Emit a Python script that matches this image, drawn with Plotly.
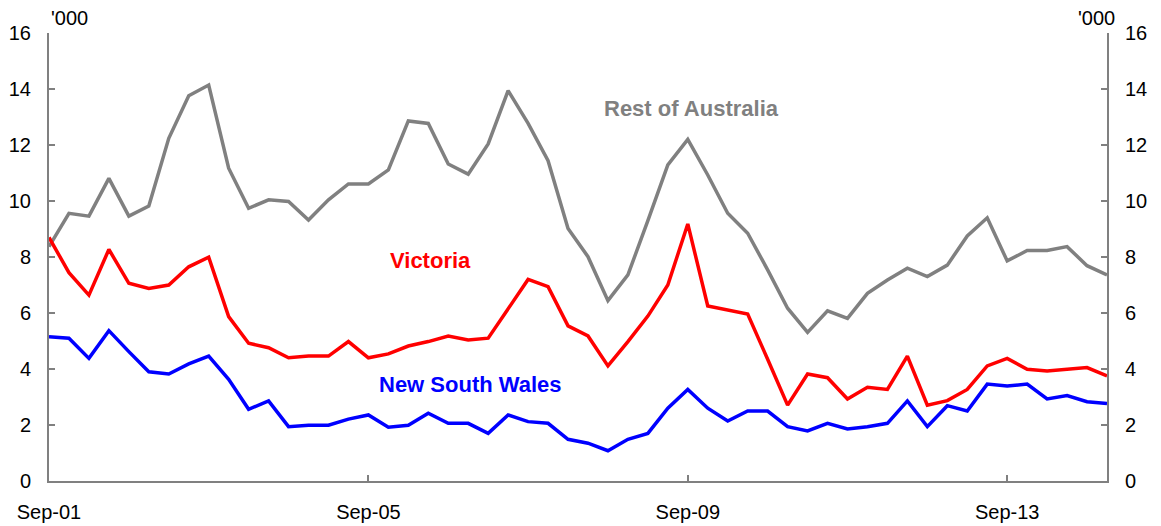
import plotly.graph_objects as go

quarters = list(range(54))  # Sep-01 .. Dec-14, quarterly
tick_pos = [0, 16, 32, 48]
tick_labels = ["Sep-01", "Sep-05", "Sep-09", "Sep-13"]

rest_of_australia = [8.37, 9.56, 9.46, 10.81, 9.46, 9.82, 12.24, 13.76, 14.14, 11.17,
                     9.74, 10.04, 9.98, 9.32, 10.04, 10.61, 10.61, 11.11, 12.86, 12.77,
                     11.32, 10.96, 12.04, 13.94, 12.77, 11.44, 9.02, 8.01, 6.44, 7.36,
                     9.30, 11.29, 12.20, 10.93, 9.56, 8.85, 7.54, 6.17, 5.31, 6.08,
                     5.81, 6.70, 7.18, 7.60, 7.30, 7.71, 8.75, 9.40, 7.86, 8.23,
                     8.23, 8.37, 7.69, 7.36]
victoria = [8.70, 7.44, 6.64, 8.27, 7.06, 6.88, 7.00, 7.65, 7.99, 5.87,
            4.92, 4.76, 4.40, 4.46, 4.46, 4.98, 4.40, 4.54, 4.82, 4.98,
            5.18, 5.04, 5.10, 6.17, 7.20, 6.94, 5.54, 5.18, 4.11, 4.98,
            5.89, 7.00, 9.18, 6.25, 6.11, 5.96, 4.35, 2.71, 3.82, 3.69,
            2.93, 3.35, 3.27, 4.46, 2.71, 2.87, 3.27, 4.11, 4.38, 3.99,
            3.93, 3.99, 4.05, 3.75]
new_south_wales = [5.15, 5.10, 4.38, 5.37, 4.62, 3.90, 3.82, 4.18, 4.46, 3.63,
                   2.56, 2.86, 1.94, 1.99, 1.99, 2.21, 2.36, 1.92, 1.99, 2.42,
                   2.06, 2.06, 1.70, 2.36, 2.12, 2.06, 1.49, 1.35, 1.08, 1.49,
                   1.70, 2.60, 3.27, 2.60, 2.14, 2.50, 2.50, 1.94, 1.79, 2.06,
                   1.86, 1.94, 2.06, 2.86, 1.94, 2.69, 2.50, 3.46, 3.39, 3.46,
                   2.93, 3.05, 2.83, 2.77]

y_ticks = [0, 2, 4, 6, 8, 10, 12, 14, 16]

FONT = "Arial, Liberation Sans, sans-serif"
GREY = "#808080"

fig = go.Figure()
fig.add_trace(go.Scatter(x=quarters, y=rest_of_australia, mode="lines",
                         line=dict(color=GREY, width=3.5), name="Rest of Australia"))
fig.add_trace(go.Scatter(x=quarters, y=victoria, mode="lines",
                         line=dict(color="#ff0000", width=3.5), name="Victoria"))
fig.add_trace(go.Scatter(x=quarters, y=new_south_wales, mode="lines",
                         line=dict(color="#0000ff", width=3.5), name="New South Wales"))
# invisible trace to activate right axis
fig.add_trace(go.Scatter(x=quarters, y=new_south_wales, mode="lines", yaxis="y2",
                         line=dict(color="rgba(0,0,0,0)", width=0), hoverinfo="skip",
                         showlegend=False))

axis_common = dict(showline=True, linecolor=GREY, linewidth=2, ticks="inside",
                   ticklen=6, tickwidth=2, tickcolor=GREY, showgrid=False,
                   zeroline=False, automargin=False,
                   tickfont=dict(family=FONT, size=20, color="black"))

fig.update_layout(
    width=1161, height=526,
    margin=dict(l=49, r=54, t=33, b=45),
    paper_bgcolor="white", plot_bgcolor="white",
    showlegend=False,
    xaxis=dict(range=[0, 53], tickvals=tick_pos, ticktext=tick_labels,
               ticklabelstandoff=12, **axis_common),
    yaxis=dict(range=[0, 16], tickvals=y_ticks, ticklabelstandoff=12, **axis_common),
    yaxis2=dict(range=[0, 16], tickvals=y_ticks, overlaying="y", side="right",
                ticklabelstandoff=12, **axis_common),
    annotations=[
        dict(text="'000", xref="paper", yref="paper", x=0, y=1, xanchor="left",
             yanchor="bottom", showarrow=False, yshift=2,
             font=dict(family=FONT, size=20, color="black")),
        dict(text="'000", xref="paper", yref="paper", x=1, y=1, xanchor="right",
             yanchor="bottom", showarrow=False, yshift=2, xshift=10,
             font=dict(family=FONT, size=20, color="black")),
        dict(text="<b>Rest of Australia</b>", x=32.2, y=13.29, showarrow=False,
             font=dict(family=FONT, size=22, color=GREY)),
        dict(text="<b>Victoria</b>", x=19.1, y=7.86, showarrow=False,
             font=dict(family=FONT, size=22, color="#ff0000")),
        dict(text="<b>New South Wales</b>", x=21.1, y=3.43, showarrow=False,
             font=dict(family=FONT, size=22, color="#0000ff")),
    ],
)

fig.write_html("out.html", config={"displayModeBar": False},
               post_script="document.body.style.margin='0';document.body.style.overflow='hidden';")
